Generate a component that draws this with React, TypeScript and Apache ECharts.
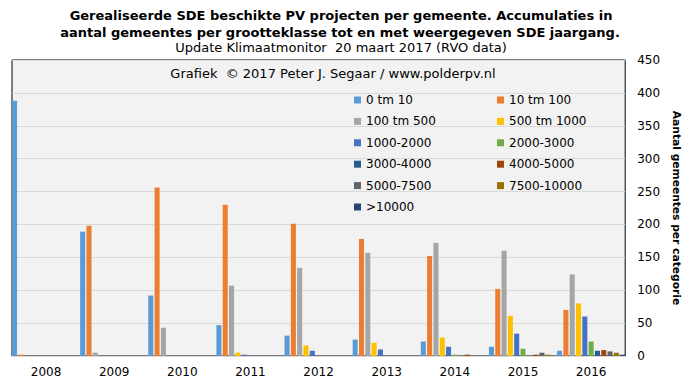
import React, { useEffect, useRef } from "react";
import * as echarts from "echarts";

const years = ["2008", "2009", "2010", "2011", "2012", "2013", "2014", "2015", "2016"];

const seriesNames = [
  "0 tm 10", "10 tm 100", "100 tm 500", "500 tm 1000", "1000-2000", "2000-3000",
  "3000-4000", "4000-5000", "5000-7500", "7500-10000", ">10000",
];

const colors = [
  "#5B9BD5", "#ED7D31", "#A5A5A5", "#FFC000", "#4472C4", "#70AD47",
  "#255E91", "#9E480E", "#636363", "#997300", "#264478",
];

const s0tm10 = [388, 189, 92, 47, 31, 25, 22, 14, 8];
const s10tm100 = [2, 198, 256, 230, 201, 178, 152, 102, 70];
const s100tm500 = [0, 5, 43, 107, 134, 157, 172, 160, 124];
const s500tm1000 = [0, 0, 0, 5, 16, 20, 28, 61, 80];
const s1000_2000 = [0, 0, 0, 2, 8, 10, 14, 34, 60];
const s2000_3000 = [0, 0, 0, 0, 0, 0, 2, 11, 22];
const s3000_4000 = [0, 0, 0, 0, 0, 0, 0, 0, 8];
const s4000_5000 = [0, 0, 0, 0, 0, 0, 2, 2, 9];
const s5000_7500 = [0, 0, 0, 0, 0, 0, 0, 5, 7];
const s7500_10000 = [0, 0, 0, 0, 0, 0, 0, 2, 5];
const s10000plus = [0, 0, 0, 0, 0, 0, 0, 0, 2];

const seriesData = [
  s0tm10, s10tm100, s100tm500, s500tm1000, s1000_2000, s2000_3000,
  s3000_4000, s4000_5000, s5000_7500, s7500_10000, s10000plus,
];

const yTicks = { min: 0, max: 450, interval: 50 };

const FONT = "DejaVu Sans";

export default function App() {
  const ref = useRef<HTMLDivElement>(null);
  useEffect(() => {
    if (!ref.current) return;
    const chart = echarts.init(ref.current, null, { renderer: "svg" });
    const legendText = { fontFamily: FONT, fontSize: 12, color: "#000", lineHeight: 14 };
    chart.setOption({
      animation: false,
      backgroundColor: "#fff",
      color: colors,
      graphic: [
        {
          type: "text",
          x: 341, y: 15,
          style: {
            text: "Gerealiseerde SDE beschikte PV projecten per gemeente. Accumulaties in",
            textAlign: "center", textVerticalAlign: "middle",
            font: `bold 13px "${FONT}"`, fill: "#000",
          },
        },
        {
          type: "text",
          x: 340, y: 32,
          style: {
            text: "aantal gemeentes per grootteklasse tot en met weergegeven SDE jaargang.",
            textAlign: "center", textVerticalAlign: "middle",
            font: `bold 13px "${FONT}"`, fill: "#000",
          },
        },
        {
          type: "text",
          x: 341, y: 47,
          style: {
            text: "Update Klimaatmonitor  20 maart 2017 (RVO data)",
            textAlign: "center", textVerticalAlign: "middle",
            font: `13px "${FONT}"`, fill: "#000",
          },
        },
        {
          type: "text",
          x: 333, y: 73,
          z: 10,
          style: {
            text: "Grafiek  © 2017 Peter J. Segaar / www.polderpv.nl",
            textAlign: "center", textVerticalAlign: "middle",
            font: `13px "${FONT}"`, fill: "#000",
          },
        },
      ],
      legend: [
        {
          orient: "vertical",
          left: 349, top: 88,
          itemWidth: 7, itemHeight: 7, itemGap: 7.4,
          icon: "rect",
          textStyle: legendText,
          data: ["0 tm 10", "100 tm 500", "1000-2000", "3000-4000", "5000-7500", ">10000"],
        },
        {
          orient: "vertical",
          left: 492, top: 88,
          itemWidth: 7, itemHeight: 7, itemGap: 7.4,
          icon: "rect",
          textStyle: legendText,
          data: ["10 tm 100", "500 tm 1000", "2000-3000", "4000-5000", "7500-10000"],
        },
      ],
      grid: {
        left: 12, right: 56, top: 60, bottom: 24,
        show: true, backgroundColor: "#F2F2F2", borderColor: "#000", borderWidth: 1,
        containLabel: false,
      },
      xAxis: {
        type: "category",
        data: years,
        axisLine: { show: true, lineStyle: { color: "#D9D9D9", width: 1 } },
        axisTick: { show: false },
        axisLabel: { fontFamily: FONT, fontSize: 12, color: "#000", margin: 10 },
      },
      yAxis: {
        type: "value",
        position: "right",
        min: yTicks.min, max: yTicks.max, interval: yTicks.interval,
        axisLine: { show: false },
        axisTick: { show: false },
        splitLine: { lineStyle: { color: "#D9D9D9", width: 1 } },
        axisLabel: { fontFamily: FONT, fontSize: 12, color: "#000", margin: 12, align: "left" },
        name: "Aantal gemeentes per categorie",
        nameLocation: "middle",
        nameRotate: -90,
        nameGap: 40,
        nameTextStyle: { fontFamily: FONT, fontSize: 10.7, fontWeight: "bold", color: "#000" },
      },
      series: seriesNames.map((name, i) => ({
        name,
        type: "bar",
        data: seriesData[i],
        barCategoryGap: "0%",
        barGap: "25%",
        itemStyle: { color: colors[i] },
      })),
    });
    return () => chart.dispose();
  }, []);
  return (
    <div
      ref={ref}
      style={{ position: "fixed", left: 0, top: 0, width: 690, height: 380 }}
    />
  );
}
